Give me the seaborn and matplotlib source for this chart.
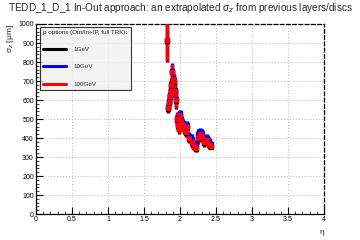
import numpy as np
import pandas as pd
import matplotlib
matplotlib.use("Agg")
import matplotlib.pyplot as plt
from matplotlib.ticker import MultipleLocator
from matplotlib.lines import Line2D
import seaborn as sns

# eta bins and sigma_z values [um]
eta = [1.82, 1.84, 1.85, 1.86, 1.87, 1.88, 1.89, 1.90, 1.92, 1.93, 1.94,
       1.96, 1.97, 1.98, 2.00, 2.02, 2.04, 2.06, 2.08, 2.10, 2.13, 2.16,
       2.19, 2.22, 2.25, 2.28, 2.31, 2.34, 2.37, 2.40, 2.43]
sig_1gev = [910, 555, 585, 615, 645, 675, 745, 705, 695, 645, 595,
            495, 465, 445, 515, 485, 465, 445, 425, 455, 395, 375,
            355, 345, 395, 415, 405, 375, 385, 365, 355]
sig_10gev = [915, 565, 595, 625, 655, 685, 755, 715, 705, 655, 605,
             505, 480, 460, 530, 500, 480, 460, 440, 470, 410, 395,
             370, 365, 420, 435, 425, 400, 400, 385, 370]
sig_100gev = [915, 560, 590, 620, 650, 680, 750, 710, 700, 650, 600,
              500, 470, 450, 520, 490, 470, 450, 430, 460, 400, 380,
              360, 350, 400, 420, 410, 380, 390, 370, 360]
err = [110, 25, 40, 40, 30, 25, 40, 30, 30, 40, 40,
       30, 30, 25, 20, 25, 20, 25, 20, 20, 20, 25,
       20, 20, 25, 20, 25, 20, 20, 20, 15]
labels = ["1GeV", "10GeV", "100GeV"]
colors = ["black", "blue", "red"]

sns.set_theme(style="white")
plt.rcParams['font.family'] = ['Liberation Sans', 'DejaVu Sans']

fig = plt.figure(figsize=(3.6, 2.4), dpi=100)
ax = fig.add_axes([0.1, 0.108, 0.8, 0.792])

for s, lab, c in zip([sig_1gev, sig_10gev, sig_100gev], labels, colors):
    df = pd.DataFrame({"eta": eta, "sigma": s, "err": err})
    ax.errorbar(df["eta"], df["sigma"], yerr=df["err"], xerr=0.015,
                fmt="s", ms=3, color=c, ecolor=c, elinewidth=2.4,
                capsize=0, zorder=3)

ax.set_xlim(0, 4)
ax.set_ylim(0, 1000)
ax.xaxis.set_major_locator(MultipleLocator(0.5))
ax.xaxis.set_minor_locator(MultipleLocator(0.1))
ax.yaxis.set_major_locator(MultipleLocator(100))
ax.yaxis.set_minor_locator(MultipleLocator(20))
ax.set_xticks(np.arange(0, 4.01, 0.5))
ax.set_xticklabels(["0", "0.5", "1", "1.5", "2", "2.5", "3", "3.5", "4"])
ax.tick_params(which="major", direction="in", length=5, width=0.8,
               labelsize=5, pad=1.5, colors="black")
ax.tick_params(which="minor", direction="in", length=2.5, width=0.6)
ax.tick_params(bottom=True, left=True, which="both")
ax.grid(True, which="major", linestyle=":", color="#c0c0c0", linewidth=0.8)

for side in ["left", "bottom"]:
    ax.spines[side].set_color("black")
    ax.spines[side].set_linewidth(0.9)
for side in ["top", "right"]:
    ax.spines[side].set_color("black")
    ax.spines[side].set_linestyle((0, (3, 2)))
    ax.spines[side].set_linewidth(0.9)

ax.set_xlabel("η", fontsize=6, loc="right")
ax.set_ylabel("σ$_z$ [μm]", fontsize=6, loc="top", labelpad=2)

fig.text(0.5, 0.965, "TEDD_1_D_1 In-Out approach: an extrapolated σ$_z$ from previous layers/discs",
         ha="center", va="center", fontsize=7.2)

handles = [Line2D([], [], color=c, lw=2.2) for c in colors]
leg = ax.legend(handles, labels, loc="upper left", bbox_to_anchor=(0.014, 0.985),
                title="p options (Out/In+IP, full TRK):", title_fontsize=4.5,
                fontsize=4.5, frameon=True, fancybox=False, borderpad=0.5,
                labelspacing=1.9, handlelength=3.6, handletextpad=1.3,
                borderaxespad=0)
leg.get_frame().set_facecolor("#f0f0f0")
leg.get_frame().set_edgecolor("black")
leg.get_frame().set_linewidth(0.8)
leg._legend_box.align = "left"

fig.savefig("out.png", dpi=100)
